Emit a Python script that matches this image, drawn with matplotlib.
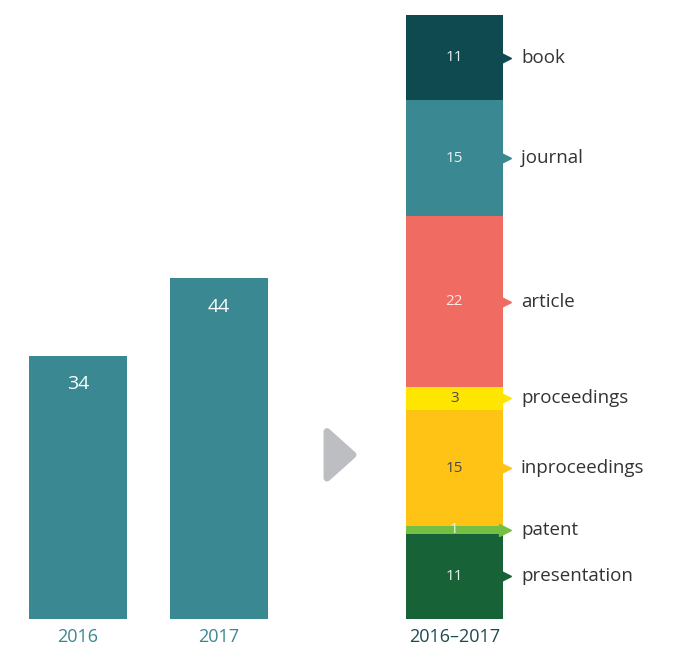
import matplotlib.pyplot as plt
from matplotlib.patches import Polygon

plt.rcParams['font.family'] = ['Open Sans', 'DejaVu Sans']

# yearly totals
years = ['2016', '2017']
year_counts = [34, 44]

# combined breakdown, listed bottom to top
types = ['presentation', 'patent', 'inproceedings', 'proceedings', 'article', 'journal', 'book']
type_counts = [11, 1, 15, 3, 22, 15, 11]
type_colors = ['#176236', '#74c043', '#fec314', '#ffe600', '#f06c62', '#3a8891', '#0e4a50']
value_colors = ['#e8f0ea', '#e8f5e0', '#4a4a4a', '#4a4a4a', '#fde9e7', '#e6f1f2', '#e2eced']

teal = '#3a8891'

fig = plt.figure(figsize=(6.77, 6.46), dpi=100)
ax = fig.add_axes([0, 27 / 646, 1, 604 / 646])
ax.set_xlim(0, 677)
ax.set_ylim(0, sum(type_counts))
ax.axis('off')

# left bars
year_x = [78, 219]
ax.bar(year_x, year_counts, width=98, color=teal)
for x, v, lab in zip(year_x, year_counts, years):
    ax.text(x, v - 3.7, str(v), ha='center', va='center', color='white', fontsize=14)
    ax.text(x, -2.3, lab, ha='center', va='center', color=teal, fontsize=13)

# stacked bar
sx = 454.5
bottom = 0
for name, v, c, tc in zip(types, type_counts, type_colors, value_colors):
    ax.bar(sx, v, width=97, bottom=bottom, color=c)
    mid = bottom + v / 2
    ax.text(sx, mid, str(v), ha='center', va='center', color=tc, fontsize=11)
    ax.plot(505, mid, marker='>', color=c, markersize=9, clip_on=False)
    ax.text(521, mid, name, ha='left', va='center', color='#333333', fontsize=13.5)
    bottom += v
ax.text(sx, -2.3, '2016\u20132017', ha='center', va='center', color='#1d4a4f', fontsize=13)

# grey arrow between the two groups
arrow = Polygon([(327, 21.2 + 3.0), (327, 21.2 - 3.0), (353, 21.2)], closed=True,
                facecolor='#bdbec2', edgecolor='#bdbec2', linewidth=5, joinstyle='round')
ax.add_patch(arrow)

fig.savefig('out.png', dpi=100)
